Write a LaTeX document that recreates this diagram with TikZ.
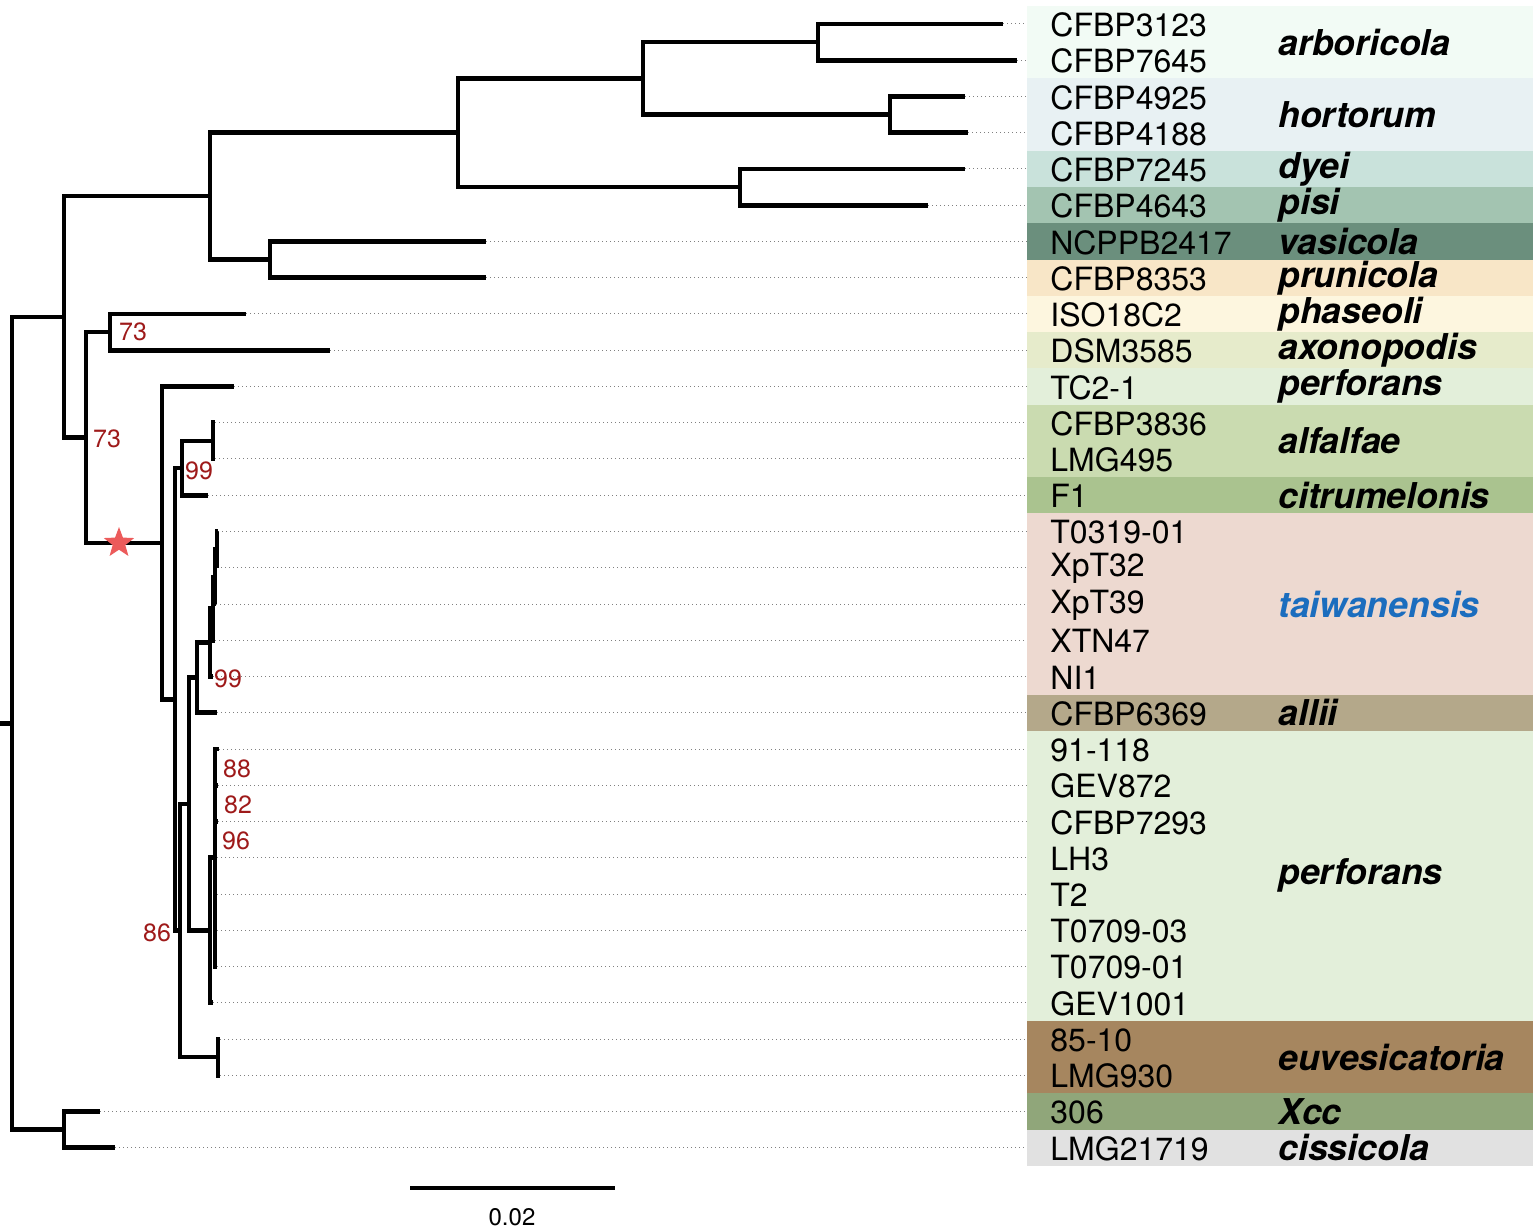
\documentclass[tikz,border=0pt]{standalone}
\usepackage{fontspec}
\setmainfont{TeX Gyre Heros}
\usetikzlibrary{shapes.geometric}
\definecolor{bootred}{HTML}{9E1A1A}
\definecolor{starred}{HTML}{EC5B5B}
\definecolor{taiblue}{HTML}{1B6DBE}
\definecolor{cArb}{HTML}{F2FBF5}
\definecolor{cHor}{HTML}{E8F1F3}
\definecolor{cDye}{HTML}{C9E2DB}
\definecolor{cPis}{HTML}{A3C4B1}
\definecolor{cVas}{HTML}{6B8F7D}
\definecolor{cPru}{HTML}{F8E6C7}
\definecolor{cPha}{HTML}{FDF6DF}
\definecolor{cAxo}{HTML}{E6EBCB}
\definecolor{cPer}{HTML}{E3EFDA}
\definecolor{cAlf}{HTML}{CADBB0}
\definecolor{cCit}{HTML}{AAC38F}
\definecolor{cTai}{HTML}{EDD9D0}
\definecolor{cAll}{HTML}{B4A88A}
\definecolor{cEuv}{HTML}{A6865F}
\definecolor{cXcc}{HTML}{90A67A}
\definecolor{cCis}{HTML}{E1E1E1}

\begin{document}
\begin{tikzpicture}[x=0.5pt,y=-0.5pt,
  br/.style={line width=2.3pt},
  tip/.style={gray,line width=0.5pt,dash pattern=on 0.5pt off 1.5pt},
  strain/.style={anchor=west,inner sep=0pt,font=\fontsize{16}{16}\selectfont},
  spec/.style={anchor=west,inner sep=0pt,font=\fontsize{17.8}{18}\selectfont\bfseries\itshape},
  boot/.style={text=bootred,inner sep=0pt,font=\fontsize{12.5}{13}\selectfont}]
\useasboundingbox (0,0) rectangle (1535,1229);
%цветные полосы видов
\foreach \a/\b/\c/\tc/\sp in {1/2/cArb/black/arboricola, 3/4/cHor/black/hortorum,
  5/5/cDye/black/dyei, 6/6/cPis/black/pisi, 7/7/cVas/black/vasicola,
  8/8/cPru/black/prunicola, 9/9/cPha/black/phaseoli, 10/10/cAxo/black/axonopodis,
  11/11/cPer/black/perforans, 12/13/cAlf/black/alfalfae, 14/14/cCit/black/citrumelonis,
  15/19/cTai/taiblue/taiwanensis, 20/20/cAll/black/allii, 21/28/cPer/black/perforans,
  29/30/cEuv/black/euvesicatoria, 31/31/cXcc/black/Xcc, 32/32/cCis/black/cissicola}
{
  \fill[\c] (1027,{24+(\a-1)*36.25-18.125}) rectangle (1533,{24+(\b-1)*36.25+18.125});
  \node[spec,text=\tc] (sp\a) at (1278,{24+(\a+\b-2)*18.125}) {\sp};
}
%листья: номер/конец ветви/штамм
\foreach \i/\tx/\nm in {1/1003/CFBP3123, 2/1017/CFBP7645, 3/965/CFBP4925, 4/968/CFBP4188,
  5/965/CFBP7245, 6/928/CFBP4643, 7/486/NCPPB2417, 8/486/CFBP8353, 9/246/ISO18C2,
  10/330/DSM3585, 11/234/TC2-1, 12/215/CFBP3836, 13/215/LMG495, 14/208/F1,
  15/218/T0319-01, 16/217/XpT32, 17/216/XpT39, 18/215/XTN47, 19/213/NI1,
  20/217/CFBP6369, 21/219/91-118, 22/218/GEV872, 23/218/CFBP7293, 24/217/LH3,
  25/217/T2, 26/217/T0709-03, 27/217/T0709-01, 28/213/GEV1001, 29/220/85-10,
  30/220/LMG930, 31/100/306, 32/115/LMG21719}
{
  \coordinate (t\i) at (\tx,{24+(\i-1)*36.25});
  \coordinate (e\i) at (1027,{24+(\i-1)*36.25});
  \node[strain] (s\i) at (1050,{25+(\i-1)*36.25}) {\nm};
  \draw[tip] (t\i) -- (e\i);
}
%внутренние узлы
\coordinate (r0) at (0,723.2);
\coordinate (root) at (12,723.2);
\coordinate (A) at (64,316.9);   \coordinate (X) at (64,1129.6);
\coordinate (B) at (210,196.2);  \coordinate (C) at (86,437.5);
\coordinate (D) at (458,132.8);  \coordinate (E) at (270,259.6);
\coordinate (G) at (643,78.4);   \coordinate (H) at (740,187.1);
\coordinate (I) at (818,42.1);   \coordinate (J) at (890,114.6);
\coordinate (K) at (110,332.1);  \coordinate (L) at (162,542.9);
\coordinate (N) at (175,699.3);  \coordinate (O) at (182,468.1);
\coordinate (AL) at (213,440.9); \coordinate (P) at (180,930.5);
\coordinate (Q) at (189,803.9);  \coordinate (R) at (218,1057.1);
\coordinate (S) at (197,677.6);  \coordinate (T1) at (210,642.5);
\coordinate (T2) at (213,608.5); \coordinate (T3) at (215,576.8);
\coordinate (T4) at (217,549.6); \coordinate (P1) at (210,930.25);
\coordinate (P2) at (215,857.75);
%ветви дерева
\draw[br] (r0) -- (root);
\foreach \p/\c in {root/A, root/X, X/t31, X/t32, A/B, A/C, B/D, B/E, D/G, D/H,
  G/I, G/J, I/t1, I/t2, J/t3, J/t4, H/t5, H/t6, E/t7, E/t8, C/K, C/L, K/t9, K/t10,
  L/t11, L/N, N/O, N/P, O/AL, O/t14, AL/t12, AL/t13, P/Q, P/R, Q/S, Q/P1,
  S/T1, S/t20, T1/T2, T1/t19, T2/T3, T2/t18, T3/T4, T3/t17, T4/t15, T4/t16,
  P1/P2, P1/t28, P2/t21, P2/t22, P2/t23, P2/t24, P2/t25, P2/t26, P2/t27, R/t29, R/t30}
  \draw[br] (\p) |- (\c);
%бутстреп
\node[boot] (b1) at (133,332) {73};
\node[boot] (b2) at (107,439) {73};
\node[boot] (b3) at (199,471) {99};
\node[boot] (b4) at (228,679) {99};
\node[boot] (b5) at (237,769) {88};
\node[boot] (b6) at (238,805) {82};
\node[boot] (b7) at (236,841) {96};
\node[boot] (b8) at (157,933) {86};
\node[star,star points=5,star point ratio=2.4,fill=starred,inner sep=0pt,minimum size=16pt] (ast) at (119,543) {};
%масштаб
\coordinate (m1) at (410,1188); \coordinate (m2) at (615,1188);
\draw[line width=2.3pt] (m1) -- (m2);
\node[inner sep=0pt,font=\fontsize{12}{12}\selectfont] (mlab) at (512,1217) {0.02};
\end{tikzpicture}
\end{document}
